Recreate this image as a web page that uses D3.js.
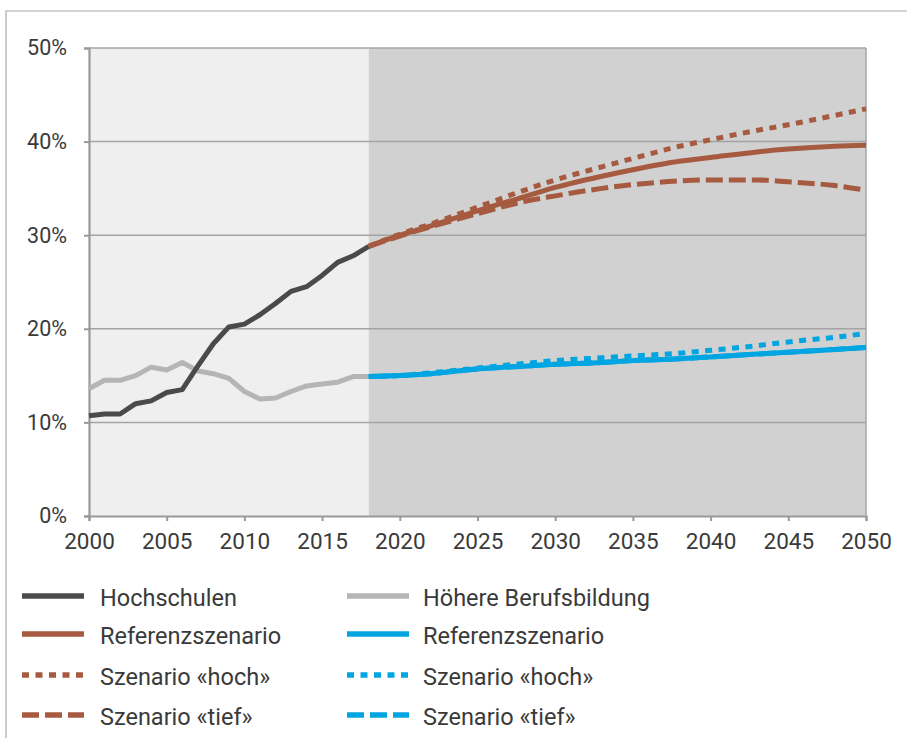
<!DOCTYPE html>
<html>
<head>
<meta charset="utf-8">
<script src="https://cdn.jsdelivr.net/npm/d3@7"></script>
<style>
  html, body { margin: 0; padding: 0; background: #fff; }
  svg { display: block; }
  text { font-family: Roboto, "Noto Sans", sans-serif; fill: #3a3a3a; }
</style>
</head>
<body>
<svg id="chart" width="907" height="738"></svg>
<script>
// ---- Data ----
const histYears = d3.range(2000, 2019);
const hochschulen = [10.7, 10.9, 10.9, 12.0, 12.3, 13.2, 13.5, 16.0, 18.4, 20.2, 20.5, 21.5, 22.7, 24.0, 24.5, 25.7, 27.1, 27.8, 28.8];
const hoehereBB   = [13.6, 14.5, 14.5, 15.0, 15.9, 15.6, 16.4, 15.5, 15.2, 14.7, 13.3, 12.5, 12.6, 13.3, 13.9, 14.1, 14.3, 14.9, 14.9];

const projYears = [2018, 2020, 2022, 2025, 2028, 2030, 2033, 2035, 2038, 2040, 2043, 2045, 2048, 2050];
const hsRef  = [28.8, 30.0, 31.0, 32.6, 34.1, 35.1, 36.3, 37.0, 37.9, 38.3, 38.9, 39.2, 39.5, 39.6];
const hsHoch = [28.8, 30.1, 31.2, 33.0, 34.8, 35.9, 37.3, 38.2, 39.5, 40.2, 41.2, 41.8, 42.8, 43.5];
const hsTief = [28.8, 29.9, 30.9, 32.3, 33.6, 34.2, 35.0, 35.4, 35.8, 35.9, 35.9, 35.7, 35.3, 34.8];
const hbRef  = [14.9, 15.0, 15.2, 15.7, 16.0, 16.2, 16.4, 16.6, 16.8, 17.0, 17.3, 17.5, 17.8, 18.0];
const hbHoch = [14.9, 15.0, 15.3, 15.8, 16.3, 16.6, 16.9, 17.1, 17.4, 17.7, 18.2, 18.6, 19.1, 19.5];
const hbTief = [14.9, 15.0, 15.2, 15.7, 16.0, 16.2, 16.4, 16.6, 16.8, 17.0, 17.3, 17.5, 17.8, 18.0];

const xTicks = [2000, 2005, 2010, 2015, 2020, 2025, 2030, 2035, 2040, 2045, 2050];
const yTicks = [0, 10, 20, 30, 40, 50];
const projectionStart = 2018;

const legendItems = [
  {label: "Hochschulen", color: "#4a4a4a", dash: null, col: 0, row: 0},
  {label: "Referenzszenario", color: "#a65b40", dash: null, col: 0, row: 1},
  {label: "Szenario «hoch»", color: "#a65b40", dash: "7,6.5", col: 0, row: 2},
  {label: "Szenario «tief»", color: "#a65b40", dash: "17,6", col: 0, row: 3},
  {label: "Höhere Berufsbildung", color: "#b5b5b5", dash: null, col: 1, row: 0},
  {label: "Referenzszenario", color: "#00a5e1", dash: null, col: 1, row: 1},
  {label: "Szenario «hoch»", color: "#00a5e1", dash: "7,6.5", col: 1, row: 2},
  {label: "Szenario «tief»", color: "#00a5e1", dash: "17,6", col: 1, row: 3}
];

// ---- Layout ----
const svg = d3.select("#chart");
const mLeft = 89, mRight = 866, mTop = 48, mBottom = 516;
const x = d3.scaleLinear().domain([2000, 2050]).range([mLeft, mRight]);
const y = d3.scaleLinear().domain([0, 50]).range([mBottom, mTop]);

// outer frame
svg.append("path").attr("d", "M6,738 V11 H907").attr("fill", "none")
  .attr("stroke", "#a8a8a8").attr("stroke-width", 1.2);

// backgrounds
svg.append("rect").attr("x", x(2000)).attr("y", y(50))
  .attr("width", x(projectionStart) - x(2000)).attr("height", y(0) - y(50)).attr("fill", "#efefef");
svg.append("rect").attr("x", x(projectionStart)).attr("y", y(50))
  .attr("width", x(2050) - x(projectionStart)).attr("height", y(0) - y(50)).attr("fill", "#d0d1d0");

// gridlines
svg.append("g").selectAll("line").data(yTicks.filter(d => d > 0)).join("line")
  .attr("x1", mLeft).attr("x2", mRight).attr("y1", d => y(d)).attr("y2", d => y(d))
  .attr("stroke", "#a4a4a4").attr("stroke-width", 1.5);
// right border
svg.append("line").attr("x1", mRight).attr("x2", mRight).attr("y1", mTop).attr("y2", mBottom)
  .attr("stroke", "#a4a4a4").attr("stroke-width", 1.5);

// axes
const yAxis = d3.axisLeft(y).tickValues(yTicks).tickFormat(d => d + "%").tickSize(5).tickPadding(17);
const gy = svg.append("g").attr("transform", `translate(${mLeft},0)`).call(yAxis);
gy.select(".domain").attr("stroke", "#999").attr("stroke-width", 2.2);
gy.selectAll(".tick line").attr("stroke", "#999").attr("stroke-width", 2);
gy.selectAll(".tick text").attr("font-size", 21.5).attr("fill", "#3a3a3a").attr("font-family", "Roboto");

const xAxis = d3.axisBottom(x).tickValues(xTicks).tickFormat(d3.format("d")).tickSize(5).tickPadding(12);
const gx = svg.append("g").attr("transform", `translate(0,${mBottom})`).call(xAxis);
gx.select(".domain").attr("stroke", "#999").attr("stroke-width", 2.2);
gx.selectAll(".tick line").attr("stroke", "#999").attr("stroke-width", 2);
gx.selectAll(".tick text").attr("font-size", 22.5).attr("fill", "#3a3a3a").attr("font-family", "Roboto");

// lines
const lineGen = d3.line().x(d => x(d[0])).y(d => y(d[1])).curve(d3.curveMonotoneX);
const histLine = d3.line().x(d => x(d[0])).y(d => y(d[1]));
function draw(years, vals, color, dash, gen) {
  const p = svg.append("path").datum(years.map((yr, i) => [yr, vals[i]]))
    .attr("d", gen || lineGen).attr("fill", "none").attr("stroke", color)
    .attr("stroke-width", 5).attr("stroke-linejoin", "round").attr("stroke-linecap", "butt");
  if (dash) p.attr("stroke-dasharray", dash);
}
draw(histYears, hoehereBB, "#b5b5b5", null, histLine);
draw(histYears, hochschulen, "#4a4a4a", null, histLine);

draw(projYears, hbTief, "#00a5e1", "17,6");
draw(projYears, hbHoch, "#00a5e1", "7,6.5");
draw(projYears, hbRef, "#00a5e1", null);

draw(projYears, hsRef, "#a65b40", null);
draw(projYears, hsTief, "#a65b40", "17,6");
draw(projYears, hsHoch, "#a65b40", "7,6.5");

// legend
const colX = [22, 347], textX = [100, 423], rowY = [596, 634, 675, 715];
const lg = svg.append("g");
legendItems.forEach(it => {
  const lx = colX[it.col], ly = rowY[it.row];
  const l = lg.append("line").attr("x1", lx).attr("x2", lx + 62).attr("y1", ly).attr("y2", ly)
    .attr("stroke", it.color).attr("stroke-width", 5.5);
  if (it.dash) l.attr("stroke-dasharray", it.dash);
  lg.append("text").attr("x", textX[it.col]).attr("y", ly + 10)
    .attr("font-size", 23.5).attr("fill", "#3a3a3a").text(it.label);
});
</script>
</body>
</html>
